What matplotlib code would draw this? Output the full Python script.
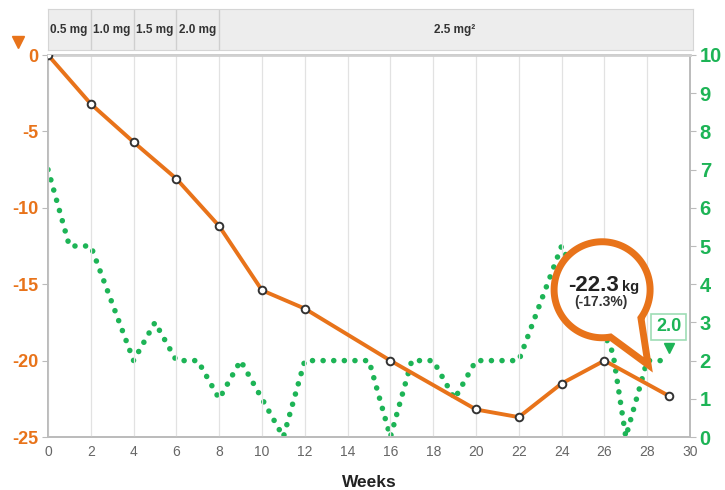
import matplotlib
matplotlib.use("Agg")
import matplotlib.pyplot as plt
import matplotlib.transforms as mtransforms
from matplotlib.path import Path
from matplotlib.patches import PathPatch
import numpy as np

# ---- data ----
weeks_w = [0, 2, 4, 6, 8, 10, 12, 16, 20, 22, 24, 26, 29]
weight_change = [0, -3.2, -5.7, -8.1, -11.2, -15.4, -16.6, -20.0, -23.2, -23.7, -21.5, -20.0, -22.3]

weeks_g = [0, 1, 2, 4, 5, 6, 7, 8, 9, 11, 12, 15, 16, 17, 18, 19, 20, 22, 24, 26.4, 27, 28, 29]
green_vals = [7, 5, 5, 2, 3, 2, 2, 1, 2, 0, 2, 2, 0, 2, 2, 1, 2, 2, 5, 2.2, 0, 2, 2]

dose_labels = ["0.5 mg", "1.0 mg", "1.5 mg", "2.0 mg", "2.5 mg\u00b2"]
dose_starts = [0, 2, 4, 6, 8]
dose_end = 30

left_ticks = [0, -5, -10, -15, -20, -25]
right_ticks = list(range(0, 11))
x_ticks = list(range(0, 31, 2))

callout_main = "-22.3"
callout_unit = "kg"
callout_pct = "(-17.3%)"
green_last_label = "2.0"

ORANGE = "#E8731A"
GREEN = "#1DB456"
GRAY = "#BBBBBB"

plt.rcParams['font.family'] = ['Liberation Sans', 'DejaVu Sans']

W, H = 725, 490
fig = plt.figure(figsize=(W / 100, H / 100), dpi=100)
fig.patch.set_facecolor("white")

ax = fig.add_axes([48 / W, 1 - 437 / H, 642 / W, 382 / H])
ax2 = ax.twinx()
ax.set_zorder(ax2.get_zorder() + 1)
ax.patch.set_visible(False)

ax.set_xlim(0, 30)
ax.set_ylim(-25, 0)
ax2.set_ylim(0, 10)

# grid
ax.set_xticks(x_ticks)
ax.grid(axis='x', color='#E2E2E2', lw=0.9)
ax.set_axisbelow(True)

for a in (ax, ax2):
    for s in a.spines.values():
        s.set_color(GRAY)
        s.set_linewidth(1.2)
ax.spines['top'].set_linewidth(2.0)
ax.spines['top'].set_color('#D0D0D0')

# green dotted line
ax2.plot(weeks_g, green_vals, color=GREEN, lw=4.0,
         linestyle=(0, (0.01, 1.9)), dash_capstyle='round', solid_capstyle='round', zorder=2)

# orange line
ax.plot(weeks_w, weight_change, color=ORANGE, lw=2.8, zorder=3, solid_joinstyle='round')
ax.plot(weeks_w, weight_change, linestyle='none', marker='o', ms=5.5, mfc='white',
        mec='#333333', mew=1.4, zorder=4)

# ticks
ax.set_yticks(left_ticks)
ax.set_yticklabels([str(v) for v in left_ticks], color=ORANGE, fontsize=13, fontweight='bold')
ax.tick_params(axis='y', length=4, color=GRAY, pad=3)
ax.set_xticklabels([str(v) for v in x_ticks], color='#666666', fontsize=10)
ax.tick_params(axis='x', length=0, pad=6)
ax2.set_yticks(right_ticks)
ax2.set_yticklabels([str(v) for v in right_ticks], color=GREEN, fontsize=14.5, fontweight='bold')
ax2.tick_params(axis='y', length=4, color=GRAY, pad=3)
ax.set_xlabel("Weeks", fontsize=12.5, fontweight='bold', color='#222222', labelpad=11)

# orange triangle above left axis
ax.plot([0], [0], marker='v', color=ORANGE, ms=9, clip_on=False,
        transform=ax.transData + mtransforms.ScaledTranslation(-30 / 100, 13 / 100, fig.dpi_scale_trans))

# dose band
band = fig.add_axes([48 / W, 1 - 50 / H, 645 / W, 41 / H])
band.set_xlim(0, 30 * 645 / 642)
band.set_ylim(0, 1)
band.set_facecolor('#EDEDED')
band.set_xticks([]); band.set_yticks([])
for s in band.spines.values():
    s.set_color('#D5D5D5')
for i, lab in enumerate(dose_labels):
    st = dose_starts[i]
    en = dose_starts[i + 1] if i + 1 < len(dose_starts) else dose_end
    if i > 0:
        band.axvline(st, color='#CFCFCF', lw=1.0)
    if i < len(dose_labels) - 1:
        band.text(st + 0.1, 0.5, lab, ha='left', va='center', fontsize=8.5,
                  fontweight='bold', color='#333333')
    else:
        band.text((st + en) / 2, 0.5, lab, ha='center', va='center', fontsize=8.5,
                  fontweight='bold', color='#333333')

# callout bubble anchored at the last weight point
lx, ly = weeks_w[-1], weight_change[-1]
anchor = mtransforms.ScaledTranslation(lx, ly, ax.transData)
cx, cy, r = -66.5, 106.0, 48.0
a1, a2 = np.deg2rad(-36), np.deg2rad(-80 + 360)
th = np.linspace(a1, a2, 120)
verts = [(cx + r * np.cos(t), cy + r * np.sin(t)) for t in th]
verts.append((-20.5, 31.0))
verts.append(verts[0])
codes = [Path.MOVETO] + [Path.LINETO] * (len(verts) - 2) + [Path.CLOSEPOLY]
bubble = PathPatch(Path(verts, codes), facecolor='white', edgecolor=ORANGE, lw=5.0,
                   transform=mtransforms.Affine2D() + anchor, clip_on=False, zorder=10,
                   joinstyle='miter')
ax.add_patch(bubble)

ax.annotate(callout_main, xy=(lx, ly), xytext=(-50, 105), textcoords='offset pixels',
            ha='right', va='baseline', fontsize=16, fontweight='bold', color='#222222', zorder=11)
ax.annotate(callout_unit, xy=(lx, ly), xytext=(-47, 105), textcoords='offset pixels',
            ha='left', va='baseline', fontsize=10.5, fontweight='bold', color='#222222', zorder=11)
ax.annotate(callout_pct, xy=(lx, ly), xytext=(-68, 94), textcoords='offset pixels',
            ha='center', va='center', fontsize=10, fontweight='bold', color='#333333', zorder=11)

# green last-value label
gx, gy = weeks_g[-1], green_vals[-1]
ax2.annotate(green_last_label, xy=(gx, gy), xytext=(0, 34), textcoords='offset pixels',
             ha='center', va='center', fontsize=13, fontweight='bold', color=GREEN,
             bbox=dict(boxstyle='square,pad=0.25', fc='white', ec='#9EDDB5', lw=1.2),
             annotation_clip=False, zorder=12)
ax2.plot([gx], [gy], marker='v', color=GREEN, ms=7, linestyle='none', clip_on=False,
         transform=ax2.transData + mtransforms.ScaledTranslation(0, 13 / 100, fig.dpi_scale_trans))

fig.savefig("out.png", dpi=100, facecolor='white')
